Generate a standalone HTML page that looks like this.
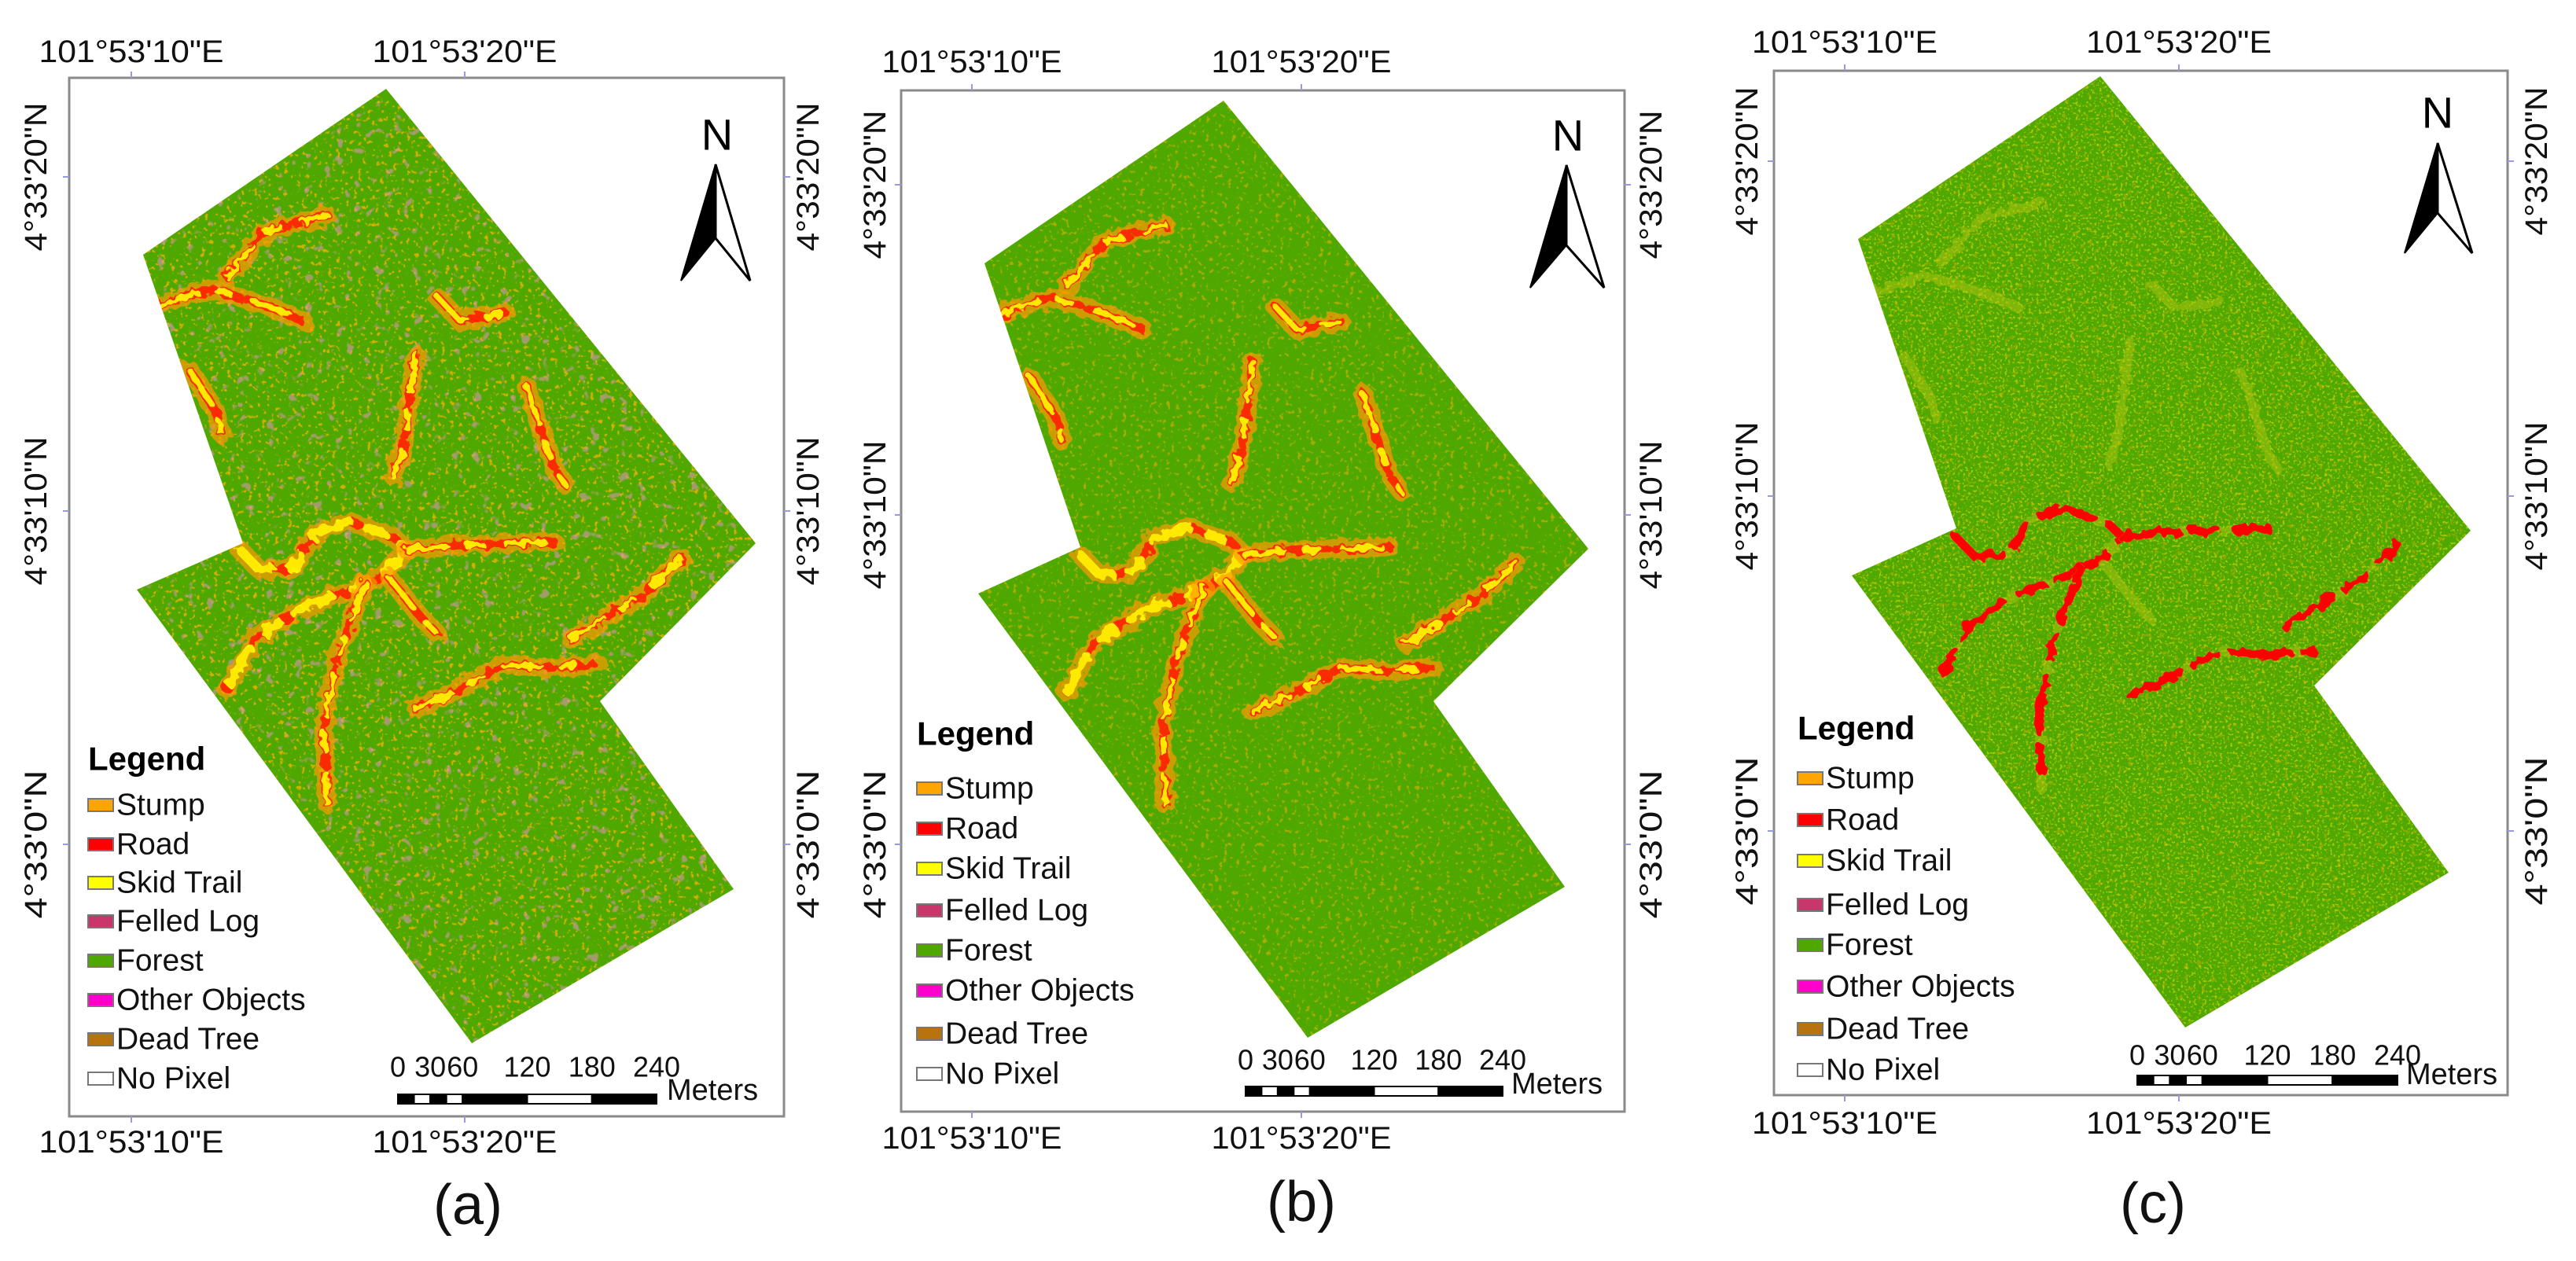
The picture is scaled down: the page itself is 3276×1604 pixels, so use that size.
<!DOCTYPE html>
<html><head><meta charset="utf-8">
<style>
html,body{margin:0;padding:0;background:#fff;}
svg{display:block;font-family:"Liberation Sans",sans-serif;}
</style></head>
<body>
<svg id="fig" xmlns="http://www.w3.org/2000/svg" width="3276" height="1604" viewBox="0 0 3276 1604">
<defs>
<filter id="spkO" x="0" y="0" width="1" height="1"><feTurbulence type="fractalNoise" baseFrequency="0.18" numOctaves="2" seed="3"/><feColorMatrix type="matrix" values="0 0 0 0 1  0 0 0 0 0.45  0 0 0 0 0  9 0 0 0 -5.5"/></filter>
<filter id="spkP" x="0" y="0" width="1" height="1"><feTurbulence type="fractalNoise" baseFrequency="0.08" numOctaves="2" seed="11"/><feColorMatrix type="matrix" values="0 0 0 0 0.7  0 0 0 0 0.3  0 0 0 0 0.45  0 9 0 0 -5.8"/></filter>
<filter id="spkY" x="0" y="0" width="1" height="1"><feTurbulence type="fractalNoise" baseFrequency="0.3" numOctaves="2" seed="7"/><feColorMatrix type="matrix" values="0 0 0 0 0.85  0 0 0 0 0.8  0 0 0 0 0  0 0 9 0 -5.2"/></filter>
<filter id="rough" x="-5%" y="-5%" width="110%" height="110%"><feTurbulence type="fractalNoise" baseFrequency="0.08" numOctaves="2" seed="5" result="n"/><feDisplacementMap in="SourceGraphic" in2="n" scale="14"/></filter>
</defs>
</svg>
<script>
const NS="http://www.w3.org/2000/svg";
const svg=document.getElementById('fig');
const lonLabels=["101°53'10\"E","101°53'20\"E"];
const latLabels=["4°33'20\"N","4°33'10\"N","4°33'0\"N"];
const legendNames=["Stump","Road","Skid Trail","Felled Log","Forest","Other Objects","Dead Tree","No Pixel"];
const legendColors=["#ffa500","#ff0000","#ffff00","#c8366a","#4ea800","#ff00cc","#b8730e","#ffffff"];
const scaleValues=[0,30,60,120,180,240];
const scaleLabels=["0","30","60","120","180","240"];
const captions=["(a)","(b)","(c)"];

const panels=[
 {frame:[88,99,997,1420],topY:66,botY:1453,lonX:[167,591],leftX:46,rightX:1028,latY:[225,650,1074],
  poly:[[491,113],[961,691],[763,892],[933,1131],[600,1327],[174,750],[309,691],[182,324]],
  N:[912,171],tip:[910,209],bl:[866,357],br:[954,357],notch:[910,303],
  legX:112,legTitle:965,rows:[1024,1074,1123,1172,1222,1272,1322,1372],
  sx0:506,sx1:835,numY:1357,barY:1398,metX:848,metY:1387,cap:[595,1533],
  lonW:235,latW:189,speck:["spkO","spkP"],spOp:[0.75,0.6]},
 {frame:[1146,115,2066,1414],topY:79,botY:1448,lonX:[1236,1655],leftX:1113,rightX:2100,latY:[235,655,1074],
  poly:[[1556,128],[2020,698],[1823,892],[1990,1128],[1663,1320],[1244,755],[1374,696],[1252,335]],
  N:[1994,172],tip:[1992,210],bl:[1946,366],br:[2040,366],notch:[1992,312],
  legX:1166,legTitle:933,rows:[1003,1054,1105,1158,1209,1260,1315,1366],
  sx0:1584,sx1:1911,numY:1348,barY:1388,metX:1922,metY:1379,cap:[1655,1529],
  lonW:229,latW:189,speck:["spkO"],spOp:[0.5]},
 {frame:[2256,90,3189,1393],topY:54,botY:1429,lonX:[2346,2771],leftX:2222,rightX:3226,latY:[205,631,1057],
  poly:[[2671,97],[3142,675],[2943,872],[3114,1110],[2779,1307],[2355,732],[2488,672],[2363,304]],
  N:[3100,143],tip:[3100,182],bl:[3058,322],br:[3144,322],notch:[3100,271],
  legX:2286,legTitle:926,rows:[990,1043,1095,1151,1202,1255,1309,1361],
  sx0:2718,sx1:3049,numY:1342,barY:1374,metX:3060,metY:1367,cap:[2738,1531],
  lonW:236,latW:189,speck:["spkY","spkO"],spOp:[0.55,0.35]}
];

const trails=[
 [[1374,706],[1398,731],[1440,728],[1468,685],[1510,670],[1566,690],[1583,706],[1552,737],[1510,757],[1454,777],[1391,818],[1357,880]],
 [[1583,706],[1640,700],[1700,698],[1767,696]],
 [[1531,747],[1496,839],[1479,921],[1482,1023]],
 [[1593,905],[1649,880],[1705,849],[1761,854],[1823,849]],
 [[1788,818],[1879,762],[1928,716]],
 [[1273,399],[1336,378],[1405,399],[1454,419]],
 [[1357,363],[1405,307],[1482,286]],
 [[1621,389],[1649,419],[1705,409]],
 [[1733,501],[1767,604],[1781,624]],
 [[1593,460],[1579,573],[1566,614]],
 [[1310,480],[1343,532],[1350,560]],
 [[1560,740],[1600,790],[1620,810]]
];

function el(tag,attrs,parent){const e=document.createElementNS(NS,tag);for(const k in attrs)e.setAttribute(k,attrs[k]);(parent||svg).appendChild(e);return e;}
function txt(s,attrs,parent){const e=el('text',attrs,parent);e.textContent=s;return e;}

function affine(src,dst){
 const [p1,p2,p3]=src,[q1,q2,q3]=dst;
 const det=(p2[0]-p1[0])*(p3[1]-p1[1])-(p3[0]-p1[0])*(p2[1]-p1[1]);
 function solve(i){
  const d2=q2[i]-q1[i],d3=q3[i]-q1[i];
  const a=(d2*(p3[1]-p1[1])-d3*(p2[1]-p1[1]))/det;
  const b=((p2[0]-p1[0])*d3-(p3[0]-p1[0])*d2)/det;
  return [a,b,q1[i]-a*p1[0]-b*p1[1]];
 }
 const X=solve(0),Y=solve(1);
 return p=>[X[0]*p[0]+X[1]*p[1]+X[2],Y[0]*p[0]+Y[1]*p[1]+Y[2]];
}

panels.forEach((P,pi)=>{
 const g=el('g',{});
 
 
 const [fx0,fy0,fx1,fy1]=P.frame;
 const fr=el('rect',{x:fx0,y:fy0,width:fx1-fx0,height:fy1-fy0,fill:'#fff',stroke:'#8a8a8a','stroke-width':3},g);
 
 
 P.lonX.forEach(x=>{
  el('line',{x1:x,y1:fy0-8,x2:x,y2:fy0,stroke:'#9999dd','stroke-width':2},g);
  el('line',{x1:x,y1:fy1,x2:x,y2:fy1+8,stroke:'#9999dd','stroke-width':2},g);
 });
 P.latY.forEach(y=>{
  el('line',{x1:fx0-8,y1:y,x2:fx0,y2:y,stroke:'#9999dd','stroke-width':2},g);
  el('line',{x1:fx1,y1:y,x2:fx1+8,y2:y,stroke:'#9999dd','stroke-width':2},g);
 });
 const pts=P.poly.map(p=>p.join(',')).join(' ');
 const cid='clip'+pi;
 const cp=el('clipPath',{id:cid},g);
 el('polygon',{points:pts},cp);
 const poly=el('polygon',{points:pts,fill:'#4fa800'},g);
 
 
 const xs=P.poly.map(p=>p[0]),ys=P.poly.map(p=>p[1]);
 const bx=Math.min(...xs),by=Math.min(...ys),bw=Math.max(...xs)-bx,bh=Math.max(...ys)-by;
 const sg=el('g',{'clip-path':'url(#'+cid+')'},g);
 P.speck.forEach((f,i)=>{el('rect',{x:bx,y:by,width:bw,height:bh,filter:'url(#'+f+')',opacity:P.spOp[i]},sg);});
 const tg=el('g',{filter:'url(#rough)'},sg);
 const T=affine([panels[1].poly[0],panels[1].poly[1],panels[1].poly[5]],[P.poly[0],P.poly[1],P.poly[5]]);
 trails.forEach((tr,ti)=>{
  const d='M'+tr.map(T).map(p=>p[0].toFixed(1)+','+p[1].toFixed(1)).join(' L');
  if(pi<2){
   el('path',{d:d,fill:'none',stroke:'#ff9a00','stroke-width':24,'stroke-linejoin':'round','stroke-linecap':'round',opacity:0.7},tg);
   el('path',{d:d,fill:'none',stroke:'#ff2000','stroke-width':11,'stroke-linejoin':'round','stroke-linecap':'round','stroke-dasharray':'22 10 40 12',opacity:0.9},tg);
   el('path',{d:d,fill:'none',stroke:'#ffff00','stroke-width':ti===0?12:7,'stroke-linejoin':'round','stroke-linecap':'round','stroke-dasharray':'50 25 20 30',opacity:0.9},tg);
  }else{
   el('path',{d:d,fill:'none',stroke:'#b8c818','stroke-width':12,'stroke-linejoin':'round','stroke-linecap':'round',opacity:0.45},tg);
   if(ti<5) el('path',{d:d,fill:'none',stroke:'#ff0000','stroke-width':11,'stroke-linejoin':'round','stroke-linecap':'round','stroke-dasharray':'70 20 30 25'},tg);
  }
 });
 lonLabels.forEach((s,i)=>{
  const t1=txt(s,{x:P.lonX[i],y:P.topY,'font-size':40,'text-anchor':'middle','dominant-baseline':'central',textLength:P.lonW,lengthAdjust:'spacingAndGlyphs',fill:'#111'},g);
  
  
  const t2=txt(s,{x:P.lonX[i],y:P.botY,'font-size':40,'text-anchor':'middle','dominant-baseline':'central',textLength:P.lonW,lengthAdjust:'spacingAndGlyphs',fill:'#111'},g);
  
  
 });
 latLabels.forEach((s,i)=>{
  [P.leftX,P.rightX].forEach((x,j)=>{
   const t=txt(s,{x:0,y:0,'font-size':40,'text-anchor':'middle','dominant-baseline':'central',transform:'translate('+x+','+P.latY[i]+') rotate(-90)',textLength:P.latW,lengthAdjust:'spacingAndGlyphs',fill:'#111'},g);
   
   
  });
 });
 const na=el('g',{},g);
 
 
 txt('N',{x:P.N[0],y:P.N[1],'font-size':56,'text-anchor':'middle','dominant-baseline':'central',fill:'#000'},na);
 el('polygon',{points:[P.tip,P.bl,P.notch].map(p=>p.join(',')).join(' '),fill:'#000',stroke:'#000','stroke-width':2},na);
 el('polygon',{points:[P.tip,P.notch,P.br].map(p=>p.join(',')).join(' '),fill:'#fff',stroke:'#000','stroke-width':3},na);
 const lg=el('g',{},g);
 
 
 txt('Legend',{x:P.legX,y:P.legTitle,'font-size':42,'font-weight':'bold','dominant-baseline':'central',fill:'#000'},lg);
 legendNames.forEach((n,i)=>{
  const e=el('g',{},lg);
  
  
  el('rect',{x:P.legX,y:P.rows[i]-8,width:32,height:16,fill:legendColors[i],stroke:'#777','stroke-width':2},e);
  txt(n,{x:P.legX+36,y:P.rows[i],'font-size':39,'dominant-baseline':'central',fill:'#111'},e);
 });
 const sb=el('g',{},g);
 
 
 const sx=v=>P.sx0+(P.sx1-P.sx0)*v/240;
 const segs=[[0,15,1],[15,30,0],[30,45,1],[45,60,0],[60,120,1],[120,180,0],[180,240,1]];
 segs.forEach(s=>el('rect',{x:sx(s[0]),y:P.barY-6,width:sx(s[1])-sx(s[0]),height:12,fill:s[2]?'#000':'#fff',stroke:'#000','stroke-width':2},sb));
 scaleValues.forEach((v,i)=>txt(scaleLabels[i],{x:sx(v),y:P.numY,'font-size':36,'text-anchor':'middle','dominant-baseline':'central',fill:'#111'},sb));
 txt('Meters',{x:P.metX,y:P.metY,'font-size':38,'dominant-baseline':'central',fill:'#111'},sb);
 const c=txt(captions[pi],{x:P.cap[0],y:P.cap[1],'font-size':72,'text-anchor':'middle','dominant-baseline':'central',fill:'#111'},svg);
 
 
});
</script>
</body></html>
